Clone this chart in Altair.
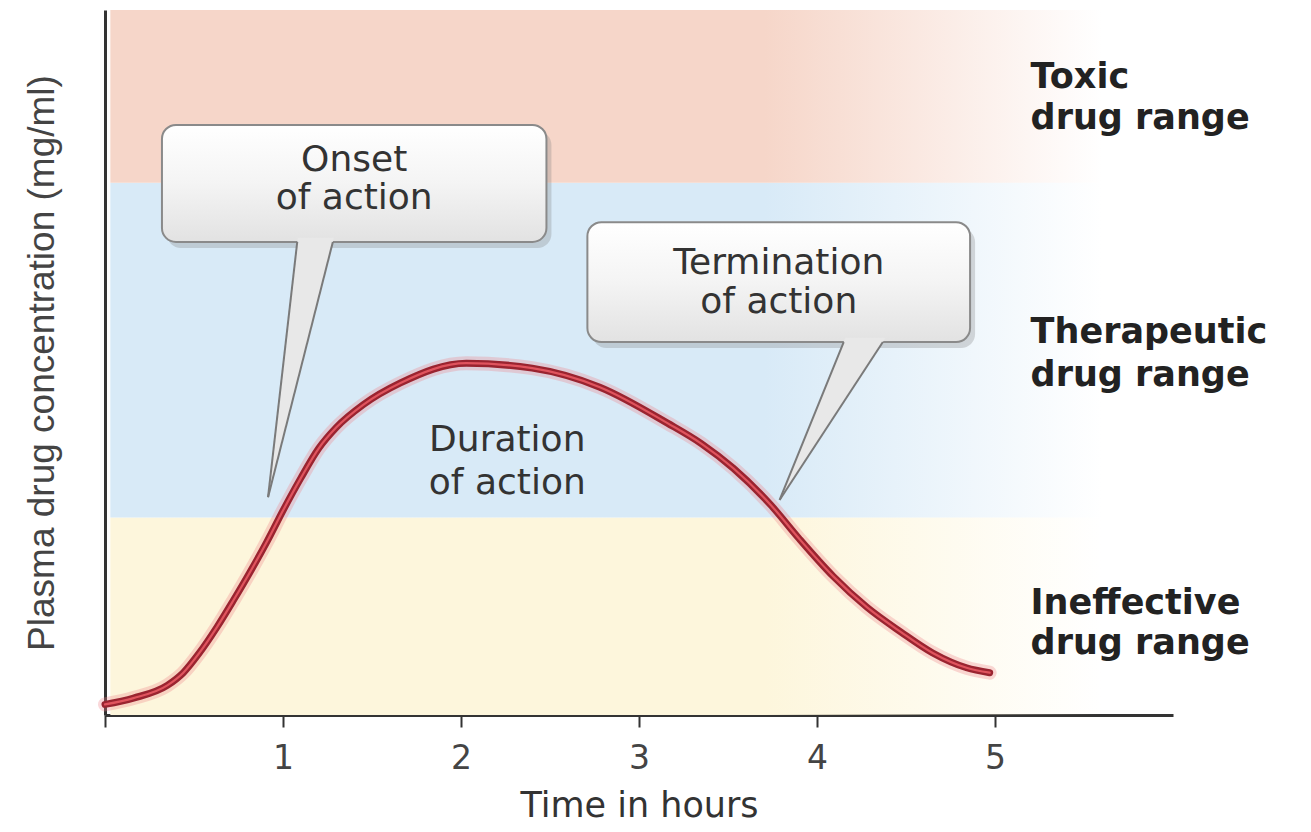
import altair as alt
import pandas as pd

# ---- data ----
time_h = [0.0, 0.16, 0.35, 0.44, 0.53, 0.63, 0.72, 0.82, 0.91, 1.0, 1.1, 1.2, 1.3, 1.45, 1.66,
          2.03, 2.4, 2.78, 3.16, 3.35, 3.53, 3.74, 3.9, 4.09, 4.28, 4.47, 4.65, 4.84, 4.97]
conc = [0.15, 0.24, 0.42, 0.6, 0.88, 1.25, 1.62, 2.05, 2.46, 2.9, 3.36, 3.78, 4.08, 4.4, 4.71,
        4.99, 4.92, 4.65, 4.14, 3.85, 3.5, 2.98, 2.5, 1.97, 1.53, 1.18, 0.88, 0.67, 0.60]

band_names = ["Ineffective", "Therapeutic", "Toxic"]
band_lo = [0.0, 2.8, 7.55]
band_hi = [2.8, 7.55, 10.0]
band_start = [0.03, 0.03, 0.03]
band_end = [5.6, 5.6, 5.6]
band_colors = ["#fdf6dc", "#d8eaf7", "#f6d6c9"]

range_label_1 = ["Ineffective", "Therapeutic", "Toxic"]
range_label_2 = ["drug range", "drug range", "drug range"]
range_label_x = [5.2, 5.2, 5.2]
range_label_y1 = [1.59, 5.43, 9.05]
range_label_y2 = [1.02, 4.82, 8.47]

box_line1 = ["Onset", "Termination"]
box_line2 = ["of action", "of action"]
box_x0 = [0.32, 2.71]
box_x1 = [2.48, 4.86]
box_y0 = [6.71, 5.29]
box_y1 = [8.37, 6.99]
box_text_y1 = [7.87, 6.41]
box_text_y2 = [7.33, 5.86]
ptr_base_l = [1.08, 4.15]
ptr_base_r = [1.28, 4.37]
ptr_tip_x = [0.916, 3.79]
ptr_tip_y = [3.09, 3.05]

dur_text = ["Duration", "of action"]
dur_x = [2.26, 2.26]
dur_y = [3.90, 3.29]

x_ticks = [0, 1, 2, 3, 4, 5]

# ---- helpers ----
XS = alt.Scale(domain=[0, 6], nice=False, zero=False)
YS = alt.Scale(domain=[0, 10], nice=False, zero=False)

x_axis = alt.Axis(values=x_ticks, labelExpr="datum.value == 0 ? '' : datum.label",
                  title="Time in hours", grid=False, domainColor="#333", domainWidth=3,
                  tickColor="#333", tickWidth=2, tickSize=12, labelFont="DejaVu Sans",
                  labelFontSize=33, labelColor="#444", labelPadding=15,
                  titleFont="DejaVu Sans", titleFontSize=35, titleFontWeight="normal",
                  titleColor="#333", titlePadding=13)
y_axis = alt.Axis(title="Plasma drug concentration (mg/ml)", labels=False, ticks=False,
                  grid=False, domainColor="#333", domainWidth=3,
                  titleFont="Liberation Sans", titleFontSize=37, titleFontWeight="normal",
                  titleColor="#444", titlePadding=44)


def X(f):
    return alt.X(f, type="quantitative", scale=XS, axis=x_axis, title="Time in hours")


def Y(f):
    return alt.Y(f, type="quantitative", scale=YS, axis=y_axis,
                 title="Plasma drug concentration (mg/ml)")


def rgba(h, a):
    h = h.lstrip("#")
    r, g, b = int(h[0:2], 16), int(h[2:4], 16), int(h[4:6], 16)
    return f"rgba({r},{g},{b},{a})"


layers = []

band_df = pd.DataFrame({"name": band_names, "lo": band_lo, "hi": band_hi,
                        "x0": band_start, "x1": band_end})
for i, c in enumerate(band_colors):
    grad = alt.Gradient(gradient="linear", x1=0, y1=0, x2=1, y2=0, stops=[
        alt.GradientStop(color=rgba(c, 1), offset=0),
        alt.GradientStop(color=rgba(c, 1), offset=0.66),
        alt.GradientStop(color=rgba(c, 0.5), offset=0.83),
        alt.GradientStop(color=rgba(c, 0), offset=1)])
    layers.append(alt.Chart(band_df.iloc[[i]]).mark_rect(fill=grad).encode(
        x=X("x0"), x2="x1", y=Y("lo"), y2="hi"))

# callout boxes
box_df = pd.DataFrame({"l1": box_line1, "l2": box_line2, "x0": box_x0, "x1": box_x1,
                       "y0": box_y0, "y1": box_y1, "ty1": box_text_y1, "ty2": box_text_y2})
box_df["cx"] = (box_df["x0"] + box_df["x1"]) / 2

layers.append(alt.Chart(box_df).mark_rect(cornerRadius=14, color="#7a7a7a", opacity=0.28,
                                          xOffset=5, x2Offset=5, yOffset=6, y2Offset=6).encode(
    x=X("x0"), x2="x1", y=Y("y0"), y2="y1"))

box_grad = alt.Gradient(gradient="linear", x1=0, y1=0, x2=0, y2=1, stops=[
    alt.GradientStop(color="#ffffff", offset=0),
    alt.GradientStop(color="#f4f4f4", offset=0.5),
    alt.GradientStop(color="#e2e2e2", offset=1)])
layers.append(alt.Chart(box_df).mark_rect(cornerRadius=14, fill=box_grad, stroke="#8a8a8a",
                                          strokeWidth=2).encode(
    x=X("x0"), x2="x1", y=Y("y0"), y2="y1"))

# pointers
ext = 0.06
area_rows, edge_rows = [], []
for i in range(len(box_line1)):
    by, ty, tx = box_y0[i], ptr_tip_y[i], ptr_tip_x[i]
    bl, br = ptr_base_l[i], ptr_base_r[i]
    fl = bl + (bl - tx) * ext / (by - ty)
    fr = br + (br - tx) * ext / (by - ty)
    area_rows.append({"p": i, "y": by + ext, "xl": fl, "xr": fr})
    area_rows.append({"p": i, "y": ty, "xl": tx, "xr": tx})
    edge_rows += [{"e": f"{i}l", "x": bl, "y": by}, {"e": f"{i}l", "x": tx, "y": ty},
                  {"e": f"{i}r", "x": br, "y": by}, {"e": f"{i}r", "x": tx, "y": ty}]
area_df = pd.DataFrame(area_rows)
edge_df = pd.DataFrame(edge_rows)

layers.append(alt.Chart(area_df).mark_area(orient="horizontal", fill="#e8e8e8").encode(
    y=Y("y"), x=X("xl"), x2="xr", detail="p:N"))
layers.append(alt.Chart(edge_df).mark_line(color="#7a7a7a", strokeWidth=2).encode(
    x=X("x"), y=Y("y"), detail="e:N"))

# curve
curve_df = pd.DataFrame({"t": time_h, "c": conc})
base = alt.Chart(curve_df).encode(x=X("t"), y=Y("c"))
layers.append(base.mark_line(color="#f07f86", strokeWidth=14, opacity=0.3,
                             interpolate="monotone", strokeCap="round"))
layers.append(base.mark_line(color="#9a2430", strokeWidth=7, interpolate="monotone",
                             strokeCap="round"))
layers.append(base.mark_line(color="#e0545e", strokeWidth=2.2, interpolate="monotone",
                             strokeCap="round"))

# texts
txt = dict(font="DejaVu Sans", fontSize=36, color="#333", align="center", baseline="middle")
layers.append(alt.Chart(box_df).mark_text(**txt).encode(x=X("cx"), y=Y("ty1"), text="l1:N"))
layers.append(alt.Chart(box_df).mark_text(**txt).encode(x=X("cx"), y=Y("ty2"), text="l2:N"))

dur_df = pd.DataFrame({"t": dur_text, "x": dur_x, "y": dur_y})
layers.append(alt.Chart(dur_df).mark_text(**txt).encode(x=X("x"), y=Y("y"), text="t:N"))

lab_df = pd.DataFrame({"a": range_label_1, "b": range_label_2, "x": range_label_x,
                       "y1": range_label_y1, "y2": range_label_y2})
ltxt = dict(font="DejaVu Sans", fontWeight="bold", fontSize=35, color="#222", align="left",
            baseline="middle")
layers.append(alt.Chart(lab_df).mark_text(**ltxt).encode(x=X("x"), y=Y("y1"), text="a:N"))
layers.append(alt.Chart(lab_df).mark_text(**ltxt).encode(x=X("x"), y=Y("y2"), text="b:N"))

chart = alt.layer(*layers).properties(
    width=1068, height=705,
    autosize=alt.AutoSizeParams(type="none"),
    padding={"left": 97, "top": 2, "right": 130, "bottom": 110},
).configure_view(strokeWidth=0)

chart.save("out.html", embed_options={"renderer": "svg", "actions": False})
